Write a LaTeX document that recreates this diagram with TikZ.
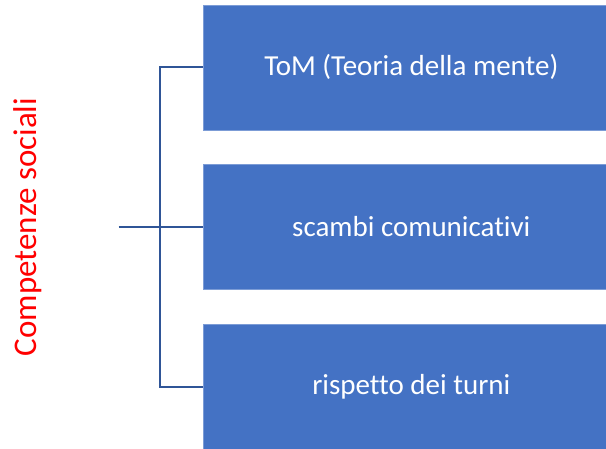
\documentclass[tikz,border=0pt]{standalone}
\usepackage{fontspec}
\setmainfont[Ligatures=CommonOff]{Carlito}
\definecolor{boxblue}{HTML}{4472C4}
\definecolor{bracketblue}{HTML}{2F5597}
\begin{document}
\begin{tikzpicture}[x=1pt,y=-1pt,
  itembox/.style={draw=boxblue!70!white, line width=0.6pt, fill=boxblue, minimum width=417pt, minimum height=125pt, anchor=north west, inner sep=0pt, text=white, font=\fontsize{29}{34}\selectfont},
  bracket/.style={draw=bracketblue, line width=2pt}]
\useasboundingbox (0,0) rectangle (606,448);
\node[itembox] (b1) at (202.5,4.5) {ToM (Teoria della mente)};
\node[itembox] (b2) at (202.5,164) {scambi comunicativi};
\node[itembox] (b3) at (202.5,323.5) {rispetto dei turni};
\coordinate (top) at (159.5,67);
\coordinate (bot) at (159.5,386.5);
\coordinate (mid) at (159.5,226.5);
\coordinate (stem) at (118.5,226.5);
\draw[bracket] (b1.west |- top) -- (top) -- (bot) -- (b3.west |- bot);
\draw[bracket] (stem) -- (b2.west |- mid);
\node[rotate=90, text=red, font=\fontsize{33}{38}\selectfont] (lab) at (28,227) {Competenze sociali};
\end{tikzpicture}
\end{document}
